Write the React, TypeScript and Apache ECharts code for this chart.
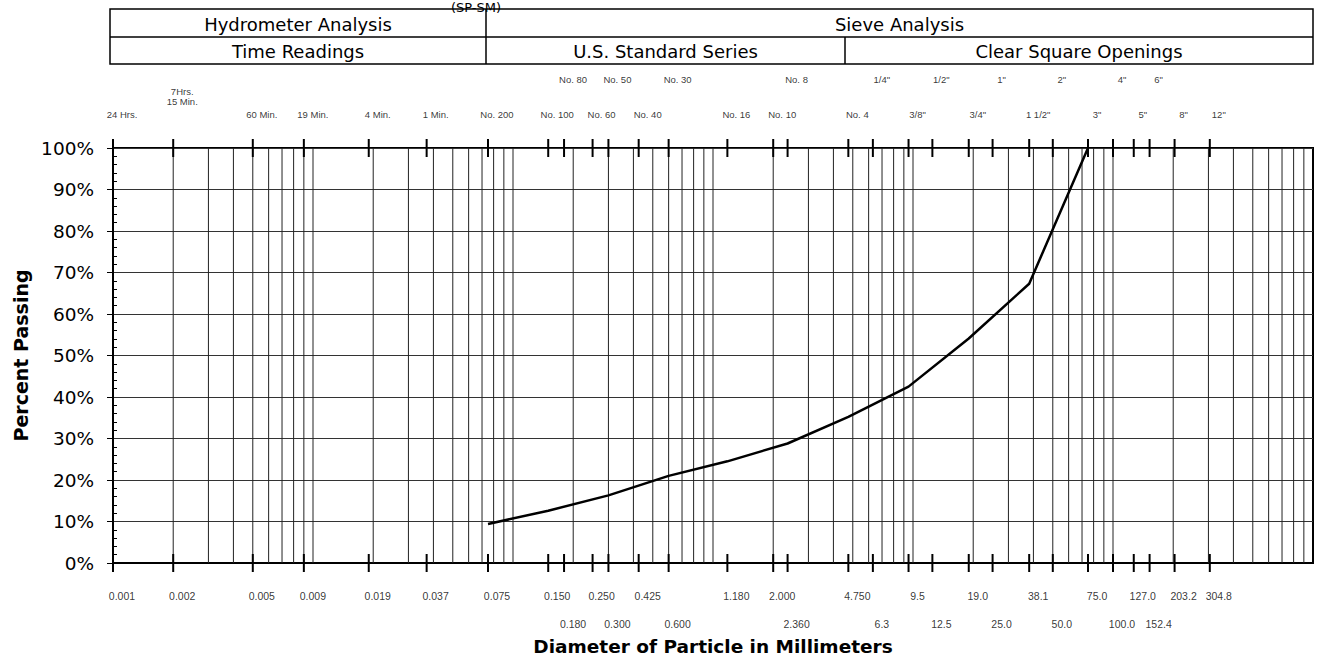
import React, { useEffect, useRef } from "react";
import * as echarts from "echarts";

// ---- Data ----
const curveSizes = [0.075, 0.15, 0.3, 0.6, 1.18, 2.36, 4.75, 9.5, 19.0, 38.1, 75.0];
const curvePassing = [9.4, 12.6, 16.3, 21.0, 24.5, 28.8, 35.2, 42.5, 54.1, 67.3, 100];

const bottomRow1Values = [0.001, 0.002, 0.005, 0.009, 0.019, 0.037, 0.075, 0.15, 0.25, 0.425, 1.18, 2.0, 4.75, 9.5, 19.0, 38.1, 75.0, 127.0, 203.2, 304.8];
const bottomRow1Labels = ["0.001", "0.002", "0.005", "0.009", "0.019", "0.037", "0.075", "0.150", "0.250", "0.425", "1.180", "2.000", "4.750", "9.5", "19.0", "38.1", "75.0", "127.0", "203.2", "304.8"];
const bottomRow2Values = [0.18, 0.3, 0.6, 2.36, 6.3, 12.5, 25.0, 50.0, 100.0, 152.4];
const bottomRow2Labels = ["0.180", "0.300", "0.600", "2.360", "6.3", "12.5", "25.0", "50.0", "100.0", "152.4"];

const topRowAValues = [0.18, 0.3, 0.6, 2.36, 6.3, 12.5, 25.0, 50.0, 100.0, 152.4];
const topRowALabels = ["No. 80", "No. 50", "No. 30", "No. 8", "1/4\"", "1/2\"", "1\"", "2\"", "4\"", "6\""];
const topRowBValues = [0.001, 0.005, 0.009, 0.019, 0.037, 0.075, 0.15, 0.25, 0.425, 1.18, 2.0, 4.75, 9.5, 19.0, 38.1, 75.0, 127.0, 203.2, 304.8];
const topRowBLabels = ["24 Hrs.", "60 Min.", "19 Min.", "4 Min.", "1 Min.", "No. 200", "No. 100", "No. 60", "No. 40", "No. 16", "No. 10", "No. 4", "3/8\"", "3/4\"", "1 1/2\"", "3\"", "5\"", "8\"", "12\""];
const hydroTimeValue = 0.002;
const hydroTimeLabel = "7Hrs.\n15 Min.";

const gridDecades = [0.001, 0.01, 0.1, 1, 10, 100];
const gridMultipliers = [1, 2, 3, 4, 5, 6, 7, 8, 9];

// label rows in percent units (outside the 0..100 range)
const rowBottom1 = -8;
const rowBottom2 = -14.7;
const rowTopA = 116.6;
const rowTopB = 108.0;
const rowTopHydro = 112.4;

const FONT = "'Liberation Sans', Arial, Helvetica, sans-serif";
const WIDE = "'DejaVu Sans', 'Liberation Sans', Arial, sans-serif";

function labelSeries(values: number[], labels: string[], y: number, size: number, extra: any = {}) {
  return {
    type: "scatter",
    clip: false,
    silent: true,
    symbolSize: 0,
    z: 6,
    data: values.map((v, i) => ({ value: [v, y], name: labels[i] })),
    label: {
      show: true,
      position: "inside",
      formatter: "{b}",
      offset: [9, 0],
      color: "#000",
      fontSize: size,
      fontFamily: FONT,
      ...extra,
    },
  };
}

export default function App() {
  const ref = useRef<HTMLDivElement>(null);
  useEffect(() => {
    if (!ref.current) return;
    const chart = echarts.init(ref.current, undefined, { renderer: "svg" });

    const gridValues: number[] = [];
    gridDecades.forEach((d) =>
      gridMultipliers.forEach((m) => {
        const v = +(d * m).toPrecision(3);
        if (v > 0.001 && v < 1000) gridValues.push(v);
      })
    );
    const tickValues = [...bottomRow1Values, ...bottomRow2Values];

    const tableLeft = 110, tableRight = 1313, tableTop = 9, tableMid = 37, tableBottom = 64;
    const split1 = 486, split2 = 845;
    const tText = (text: string, x: number, y: number) => ({
      type: "text",
      x,
      y,
      style: { text, fill: "#000", font: `18px ${WIDE}`, textAlign: "center", textVerticalAlign: "middle" },
    });
    const tLine = (x1: number, y1: number, x2: number, y2: number) => ({
      type: "line",
      shape: { x1, y1, x2, y2 },
      style: { stroke: "#000", lineWidth: 1.5 },
    });

    chart.setOption({
      animation: false,
      backgroundColor: "#fff",
      grid: {
        left: 113,
        right: 4,
        top: 148,
        bottom: 93,
        show: true,
        borderColor: "#000",
        borderWidth: 2,
        outerBoundsMode: "none",
      },
      xAxis: {
        type: "log",
        logBase: 10,
        min: 0.001,
        max: 1000,
        axisLine: { show: true, lineStyle: { color: "#000", width: 2 } },
        axisTick: { show: false },
        axisLabel: { show: false },
        splitLine: { show: false },
        name: "Diameter of Particle in Millimeters",
        nameLocation: "middle",
        nameGap: 74,
        nameTextStyle: { color: "#000", fontSize: 18.5, fontWeight: "bold", fontFamily: WIDE },
      },
      yAxis: [
        {
          type: "value",
          min: 0,
          max: 100,
          interval: 10,
          position: "left",
          axisLine: { show: true, lineStyle: { color: "#000", width: 2 } },
          axisTick: { show: true, length: 6, lineStyle: { color: "#000", width: 1 } },
          axisLabel: {
            formatter: "{value}%",
            color: "#000",
            fontSize: 18.5,
            fontFamily: WIDE,
            margin: 19,
          },
          splitLine: { show: true, lineStyle: { color: "#333", width: 1 } },
          name: "Percent Passing",
          nameLocation: "middle",
          nameGap: 81,
          nameTextStyle: { color: "#000", fontSize: 19, fontWeight: "bold", fontFamily: WIDE },
        },
        {
          type: "value",
          min: 0,
          max: 100,
          interval: 10,
          position: "left",
          axisLine: { show: false },
          axisTick: { show: false, inside: true },
          axisLabel: { show: false },
          splitLine: { show: false },
          minorTick: { show: true, splitNumber: 5, length: 4, lineStyle: { color: "#000", width: 1 } },
        },
      ],
      graphic: [
        {
          type: "text",
          x: 476,
          y: 1,
          style: { text: "(SP-SM)", fill: "#000", font: `13px ${WIDE}`, textAlign: "center", textVerticalAlign: "top" },
        },
        {
          type: "rect",
          shape: { x: tableLeft, y: tableTop, width: tableRight - tableLeft, height: tableBottom - tableTop },
          style: { fill: "none", stroke: "#000", lineWidth: 1.5 },
        },
        tLine(tableLeft, tableMid, tableRight, tableMid),
        tLine(split1, tableTop, split1, tableBottom),
        tLine(split2, tableMid, split2, tableBottom),
        tText("Hydrometer Analysis", (tableLeft + split1) / 2, (tableTop + tableMid) / 2 + 1),
        tText("Sieve Analysis", (split1 + tableRight) / 2, (tableTop + tableMid) / 2 + 1),
        tText("Time Readings", (tableLeft + split1) / 2, (tableMid + tableBottom) / 2 + 1),
        tText("U.S. Standard Series", (split1 + split2) / 2, (tableMid + tableBottom) / 2 + 1),
        tText("Clear Square Openings", (split2 + tableRight) / 2, (tableMid + tableBottom) / 2 + 1),
      ],
      series: [
        {
          type: "custom",
          silent: true,
          z: 1,
          data: gridValues.map((v) => [v, 0]),
          renderItem: (params: any, api: any) => {
            const b = api.coord([api.value(0), 0]);
            const t = api.coord([api.value(0), 100]);
            return {
              type: "line",
              shape: { x1: b[0], y1: b[1], x2: t[0], y2: t[1] },
              style: { stroke: "#222", lineWidth: 1 },
            };
          },
        },
        {
          type: "custom",
          silent: true,
          clip: false,
          z: 4,
          data: tickValues.map((v) => [v, 0]),
          renderItem: (params: any, api: any) => {
            const b = api.coord([api.value(0), 0]);
            const t = api.coord([api.value(0), 100]);
            return {
              type: "group",
              children: [
                { type: "line", shape: { x1: b[0], y1: b[1] - 9, x2: b[0], y2: b[1] + 9 }, style: { stroke: "#000", lineWidth: 2 } },
                { type: "line", shape: { x1: t[0], y1: t[1] - 9, x2: t[0], y2: t[1] + 9 }, style: { stroke: "#000", lineWidth: 2 } },
              ],
            };
          },
        },
        {
          type: "line",
          z: 5,
          showSymbol: false,
          symbol: "none",
          data: curveSizes.map((s, i) => [s, curvePassing[i]]),
          lineStyle: { color: "#000", width: 2.5 },
        },
        labelSeries(bottomRow1Values, bottomRow1Labels, rowBottom1, 10.5),
        labelSeries(bottomRow2Values, bottomRow2Labels, rowBottom2, 10.5),
        labelSeries(topRowAValues, topRowALabels, rowTopA, 9.5),
        labelSeries(topRowBValues, topRowBLabels, rowTopB, 9.5),
        labelSeries([hydroTimeValue], [hydroTimeLabel], rowTopHydro, 9.5, { lineHeight: 10 }),
      ],
    });
    return () => chart.dispose();
  }, []);
  return <div ref={ref} style={{ position: "fixed", left: 0, top: 0, width: 1317, height: 656 }} />;
}
